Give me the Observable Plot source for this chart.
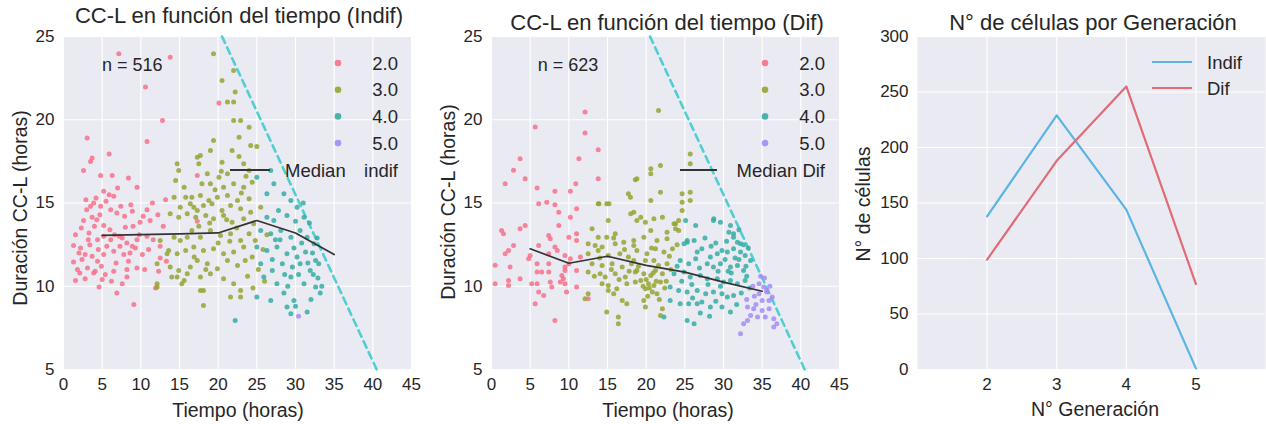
<!DOCTYPE html>
<html>
<head>
<meta charset="utf-8">
<script src="https://cdn.jsdelivr.net/npm/d3@7"></script>
<script src="https://cdn.jsdelivr.net/npm/@observablehq/plot@0.6"></script>
<style>
  body { margin: 0; background: #fff; }
  #wrap { position: relative; width: 1266px; height: 424px; overflow: hidden; font-family: "Liberation Sans", Arial, sans-serif; }
  #wrap > svg, #wrap > figure { position: absolute; top: 0; margin: 0; }
</style>
</head>
<body>
<div id="wrap"></div>
<script>
// ---------------- DATA ----------------
const generations = [2, 3, 4, 5];
const genLabels = ["2.0", "3.0", "4.0", "5.0"];
const timeTicks = [0, 5, 10, 15, 20, 25, 30, 35, 40, 45];
const durTicks = [5, 10, 15, 20, 25];
const countTicks = [0, 50, 100, 150, 200, 250, 300];

// cut-off line (observation window)
const limitTime = [20.5, 40.5];
const limitDur = [25, 5];

// median lines
const medianTime = [5, 10, 15, 20, 25, 30, 35];
const medianIndif = [13.05, 13.1, 13.15, 13.2, 13.95, 13.2, 11.9];
const medianDif = [12.25, 11.38, 11.8, 11.25, 10.85, 10.25, 9.7];

// cells per generation
const indifCount = [138, 229, 144, 1];
const difCount = [99, 188, 255, 77];

// Indif scatter [tiempo, duración]
const indifGen2 = [[7.15,23.96],[13.8,23.76],[10.6,21.96],[12.8,19.95],[3.06,18.9],[10.8,18.7],[3.7,17.7],[3.5,17.5],[5.9,17.95],[2.6,16.95],[4.8,16.65],[6.3,16.65],[8.4,16.5],[9.5,15.95],[5.2,15.7],[5.9,15.5],[6.5,15.4],[2.9,15.2],[3.9,15.0],[3.5,14.8],[4.8,14.8],[6.1,14.6],[7.4,14.8],[8.7,14.9],[8.9,14.5],[6.9,14.4],[10.8,14.6],[13.2,15.2],[2.6,13.95],[3.7,14.15],[5.2,13.65],[8.0,13.55],[9.9,13.85],[11.2,13.95],[1.55,13.1],[3.3,13.2],[4.4,12.8],[5.2,13.0],[6.1,12.8],[7.2,13.0],[8.2,12.6],[8.9,12.4],[9.5,12.8],[10.8,13.0],[1.3,12.45],[2.2,12.3],[2.8,11.9],[3.7,11.8],[4.4,11.5],[5.2,11.9],[6.5,12.1],[7.8,11.9],[8.4,11.5],[9.3,12.3],[10.2,11.9],[12.5,12.4],[1.3,11.45],[3.1,11.1],[4.1,10.9],[5.4,10.7],[6.5,10.9],[8.2,11.0],[9.5,11.1],[12.3,10.9],[1.55,10.35],[2.8,10.45],[4.6,9.95],[7.6,10.15],[8.2,10.55],[6.9,9.6],[9.1,8.9],[12.9,13.6],[12.5,11.7],[20.1,21.0],[17.3,16.65],[17.3,13.9],[2.0,12.0],[2.4,11.6],[3.4,12.5],[4.0,13.6],[4.7,14.3],[5.6,12.4],[6.0,13.4],[6.8,11.4],[7.6,12.9],[3.0,14.6],[4.2,15.3],[5.5,15.1],[7.0,15.9],[3.9,10.8],[2.3,13.5],[9.8,13.1],[11.6,12.8],[10.5,11.0],[11.5,15.0],[6.2,10.3],[1.8,11.0],[4.5,12.2],[7.3,12.4],[9.0,13.6],[10.3,14.2],[11.9,9.9],[11.0,12.2],[12.2,14.3],[13.3,11.5],[3.2,12.8],[4.9,11.2],[6.6,13.1],[8.6,12.0],[2.1,10.8],[5.0,10.4],[7.9,14.2],[4.3,14.0]];
const indifGen3 = [[19.4,23.96],[22.0,22.96],[20.5,22.36],[22.2,21.66],[21.2,21.06],[22.0,21.06],[22.0,19.95],[22.9,19.95],[24.0,19.55],[22.7,18.95],[19.4,18.75],[24.2,18.45],[25.0,18.4],[17.7,17.85],[19.0,18.15],[20.5,17.45],[21.8,18.15],[17.5,17.35],[23.3,17.35],[18.6,16.75],[20.1,16.55],[21.2,16.75],[24.0,16.95],[17.9,16.15],[19.0,16.15],[20.7,15.95],[22.0,16.15],[23.3,15.95],[24.4,16.25],[16.6,15.35],[17.7,15.45],[18.8,15.15],[19.9,15.35],[21.2,15.45],[22.5,15.15],[24.0,15.25],[16.85,14.75],[18.1,14.85],[19.2,14.95],[20.5,14.55],[21.6,14.85],[22.9,14.65],[24.2,14.45],[25.5,14.75],[17.1,14.15],[18.4,14.25],[19.4,14.05],[20.7,14.25],[21.8,13.85],[23.3,14.05],[24.6,13.75],[16.6,13.35],[17.7,12.95],[19.0,13.35],[20.3,13.05],[21.6,13.15],[22.9,12.75],[24.0,13.15],[24.8,12.75],[16.85,12.35],[18.1,12.15],[19.4,12.25],[20.7,11.95],[22.0,12.05],[23.3,12.35],[24.4,11.75],[17.3,11.55],[18.6,11.35],[19.9,11.05],[21.2,11.55],[22.5,11.25],[23.5,11.55],[17.7,10.55],[19.0,10.75],[20.7,10.45],[22.0,10.15],[22.9,9.75],[18.1,9.75],[21.6,9.35],[22.9,9.35],[18.1,8.85],[14.7,17.35],[14.9,16.95],[14.5,16.35],[17.3,17.75],[15.6,15.95],[14.3,15.35],[15.8,15.35],[15.1,14.75],[16.4,14.95],[13.8,14.35],[14.9,14.15],[16.0,14.35],[17.3,14.55],[14.3,12.95],[15.1,12.75],[16.0,12.95],[12.5,12.75],[13.6,12.15],[14.7,11.95],[15.8,12.15],[16.9,11.75],[12.1,11.35],[13.8,11.15],[14.9,10.95],[16.4,11.15],[12.1,10.15],[14.7,10.55],[15.6,10.35],[12.1,9.95],[17.7,9.75],[16.0,10.75],[13.4,11.95],[15.3,10.15],[14.0,10.55],[25.8,12.2],[26.3,13.1],[25.2,11.0],[26.0,10.3],[23.8,10.6],[24.5,9.9],[18.9,13.8],[20.0,12.6],[21.1,14.0],[22.4,13.5],[19.6,15.8],[21.5,12.7],[23.0,15.6],[17.5,13.6],[18.4,11.0],[20.4,16.9],[23.6,16.6],[22.7,17.8]];
const indifGen4 = [[27.2,16.15],[28.5,15.55],[29.4,15.15],[27.8,14.55],[28.9,14.25],[30.2,14.75],[31.1,14.15],[27.2,13.95],[26.3,14.15],[25.5,13.35],[26.8,13.15],[28.1,13.35],[29.4,12.95],[30.6,13.35],[31.5,12.95],[32.4,12.55],[25.0,12.35],[26.3,12.15],[27.6,12.35],[28.9,11.95],[30.2,11.75],[31.3,12.05],[32.6,11.55],[25.5,11.35],[27.0,10.95],[28.3,11.35],[29.6,11.15],[30.6,11.35],[31.9,10.95],[33.0,11.35],[25.9,10.55],[27.6,10.15],[29.4,10.55],[31.1,10.15],[32.6,9.95],[25.0,9.35],[26.8,9.15],[28.9,8.75],[29.8,9.15],[31.5,8.45],[22.2,7.95],[29.4,8.35],[26.8,16.95],[25.0,16.55],[26.3,15.55],[31.8,13.8],[32.2,12.0],[32.9,10.5],[33.2,9.6],[32.0,9.2],[30.4,10.7],[29.0,10.0],[28.0,12.8],[30.0,13.9],[31.0,15.0],[32.8,12.9],[33.4,10.0],[30.8,12.6],[27.0,11.6],[28.5,9.6],[30.0,8.8],[29.8,12.3],[31.6,11.4],[32.3,10.7],[28.6,10.7],[27.4,12.8]];
const indifGen5 = [[30.4,8.2]];

// Dif scatter [tiempo, duración]
const difGen2 = [[12.1,20.46],[5.65,19.56],[12.1,19.2],[13.8,18.2],[3.7,17.66],[11.3,17.66],[2.85,16.96],[4.35,16.46],[1.77,16.16],[13.8,16.46],[5.9,15.9],[8.2,15.7],[10.2,15.7],[10.9,16.16],[6.1,14.95],[7.15,15.05],[8.2,14.9],[11.0,14.65],[8.7,14.45],[10.2,14.15],[4.35,13.65],[3.7,13.45],[8.7,13.65],[1.3,13.35],[1.55,13.15],[7.4,13.05],[7.6,12.85],[10.0,12.95],[11.0,13.15],[11.0,12.75],[2.85,12.45],[2.2,12.15],[1.77,11.95],[6.1,12.45],[8.2,12.35],[8.5,12.15],[5.0,11.85],[4.8,11.65],[7.4,11.95],[9.5,11.85],[10.2,11.65],[11.5,11.75],[0.47,11.26],[2.4,11.15],[5.9,11.35],[7.4,11.35],[9.5,11.15],[10.0,11.35],[5.9,10.85],[6.5,10.85],[7.4,10.85],[9.5,10.95],[9.1,10.65],[11.0,10.95],[0.47,10.15],[2.2,10.35],[2.2,10.05],[3.7,10.45],[5.2,10.15],[5.9,10.15],[7.6,10.25],[7.8,9.95],[8.9,10.25],[9.3,10.45],[9.5,10.15],[11.0,9.95],[6.1,9.65],[6.75,9.45],[9.7,9.65],[12.5,9.25],[5.65,8.95],[8.2,7.95]];
const difGen3 = [[18.6,16.4],[17.7,15.55],[13.8,14.95],[14.9,14.95],[18.4,14.45],[15.1,13.95],[13.0,13.45],[13.8,12.95],[14.9,12.95],[16.0,13.15],[12.5,12.55],[13.4,12.45],[14.3,12.35],[16.0,12.55],[17.1,12.65],[18.4,12.45],[12.5,11.95],[13.8,12.15],[15.1,11.85],[16.6,11.95],[17.7,11.75],[13.0,11.35],[14.3,11.25],[15.6,11.35],[16.9,11.15],[18.1,11.35],[12.5,10.85],[14.05,10.75],[14.7,10.55],[16.0,10.75],[17.3,10.55],[18.6,10.85],[14.3,10.15],[15.1,10.05],[16.2,9.85],[17.5,10.15],[18.6,10.25],[12.5,9.55],[12.1,9.25],[15.1,9.75],[15.8,9.55],[16.9,9.15],[17.5,8.95],[14.9,8.45],[16.4,8.15],[16.4,7.75],[21.85,17.25],[25.7,17.35],[18.8,16.45],[20.6,16.75],[21.85,15.65],[24.65,15.55],[24.65,15.05],[24.65,14.55],[17.97,15.35],[20.6,15.15],[18.8,13.95],[19.9,13.85],[21.0,14.05],[22.1,14.15],[23.6,13.75],[24.2,13.95],[20.6,13.35],[22.7,13.25],[23.8,13.45],[18.4,12.75],[19.7,12.95],[21.4,12.75],[22.7,12.85],[18.8,12.15],[20.1,11.95],[21.2,12.25],[22.3,12.05],[23.4,12.25],[18.4,11.55],[19.9,11.55],[21.0,11.55],[21.6,11.25],[22.7,11.35],[18.8,10.95],[19.7,10.75],[20.6,10.65],[21.2,10.95],[22.1,10.75],[19.3,10.35],[20.3,10.15],[21.0,10.05],[21.85,10.25],[19.9,9.85],[20.8,9.65],[21.4,9.55],[19.7,9.15],[19.9,8.75],[22.1,8.65],[21.85,8.25],[21.6,20.56],[20.6,17.05],[18.0,14.35],[19.3,14.15],[15.2,14.95],[13.9,14.95],[25.7,17.95],[25.7,15.65],[25.7,15.15],[23.8,13.75],[24.2,13.35],[20.0,10.4],[20.4,9.9],[21.3,10.3],[20.9,10.8],[19.6,10.0],[22.4,9.9],[21.7,9.2],[20.2,9.4],[22.6,10.3],[23.2,11.0],[23.0,11.8],[24.0,12.5],[16.5,10.4],[17.8,10.9],[15.5,11.0],[13.3,10.6],[17.2,12.2],[15.8,12.9],[19.0,11.2],[20.7,12.3],[14.0,11.7]];
const difGen4 = [[28.7,13.95],[29.6,13.85],[30.9,13.65],[30.7,13.25],[31.3,12.95],[31.8,12.65],[25.3,12.65],[26.2,12.75],[26.6,12.05],[27.2,12.25],[28.3,11.75],[29.2,11.95],[29.8,12.15],[30.5,12.05],[31.3,12.25],[32.2,12.05],[32.8,11.85],[33.5,11.55],[24.4,11.55],[25.5,11.35],[26.4,11.65],[27.9,11.35],[28.7,11.15],[29.6,11.35],[30.9,11.15],[31.8,11.25],[32.6,10.95],[23.6,10.75],[24.9,10.85],[25.7,10.55],[27.0,10.65],[27.9,10.45],[29.2,10.45],[30.0,10.25],[30.9,10.35],[31.8,10.15],[32.8,10.35],[23.1,9.95],[24.2,9.75],[25.3,9.65],[26.6,9.75],[27.7,9.55],[28.7,9.65],[29.8,9.55],[30.5,9.35],[31.3,9.45],[23.1,9.15],[24.4,8.95],[25.5,8.95],[26.6,8.95],[27.2,9.05],[28.3,8.75],[29.8,8.75],[30.9,8.45],[26.2,7.75],[25.3,7.95],[22.3,8.15],[25.1,13.95],[26.4,13.65],[28.75,14.05],[31.3,13.15],[32.2,12.55],[24.9,12.55],[25.3,12.75],[30.2,11.6],[31.0,10.8],[32.0,11.6],[33.0,10.6],[33.4,9.9],[32.3,9.6],[29.3,10.9],[28.0,10.1],[26.9,11.1],[25.9,10.1],[24.6,10.3],[29.0,9.1],[31.7,8.9],[32.6,12.5],[30.4,12.7],[27.6,12.9],[33.2,12.3],[32.0,13.4],[29.0,12.6],[26.0,9.3],[24.0,11.2],[28.2,8.2],[27.0,8.4],[30.6,10.9],[31.5,11.7],[29.6,10.0],[32.9,11.2],[28.4,12.4]];
const difGen5 = [[34.6,10.15],[35.2,9.95],[35.6,9.65],[34.6,9.55],[35.0,9.15],[35.9,9.15],[33.1,8.75],[33.9,8.65],[35.0,8.55],[35.9,8.65],[33.5,8.25],[34.4,8.15],[35.4,8.15],[36.5,8.05],[33.1,7.95],[32.6,7.75],[36.9,7.75],[36.5,7.55],[35.6,9.75],[36.3,9.35],[32.2,7.15],[34.0,9.4],[34.8,10.6],[33.8,10.0],[35.3,10.5],[36.0,10.0],[34.2,8.9],[33.0,9.2]];

// ---------------- STYLE ----------------
const FONT = "'Liberation Sans', Arial, sans-serif";
const palette = ["#f77189", "#97a431", "#36ada4", "#a48cf4"];
const BG = "#eaeaf2";
const TXT = "#262626";
const limitColor = "#4fcfd2";
const indifColor = "#5ab4e4";
const difColor = "#e06c76";

const wrap = document.getElementById("wrap");

function rows(groups) {
  const out = [];
  groups.forEach((pts, i) => pts.forEach(([t, d]) => out.push({t, d, gen: generations[i]})));
  return out;
}

function scatterPanel({left, width, marginLeft, marginRight, groups, median, note}) {
  const limit = limitTime.map((t, i) => ({t, d: limitDur[i]}));
  const med = medianTime.map((t, i) => ({t, d: median[i]}));
  const svg = Plot.plot({
    width, height: 424,
    marginLeft, marginRight, marginTop: 36, marginBottom: 55,
    style: {fontFamily: FONT, fontSize: "17px", color: TXT, background: "transparent", overflow: "visible"},
    x: {domain: [0, 45], ticks: timeTicks, tickFormat: d3.format("d"), tickSize: 0, tickPadding: 8, label: null},
    y: {domain: [5, 25], ticks: durTicks, tickFormat: d3.format("d"), tickSize: 0, tickPadding: 9, label: null},
    color: {type: "ordinal", domain: generations, range: palette},
    marks: [
      Plot.frame({fill: BG, stroke: null}),
      Plot.ruleX(timeTicks, {stroke: "white", strokeWidth: 1.1}),
      Plot.ruleY(durTicks, {stroke: "white", strokeWidth: 1.1}),
      Plot.line(limit, {x: "t", y: "d", stroke: limitColor, strokeWidth: 2.6, strokeDasharray: "7,5"}),
      Plot.dot(rows(groups), {x: "t", y: "d", fill: "gen", r: 2.5, fillOpacity: 0.85, stroke: null}),
      Plot.line(med, {x: "t", y: "d", stroke: "#333", strokeWidth: 1.7}),
      Plot.text([note], {x: note.t, y: note.d, text: d => d.label, fontSize: 18, fill: TXT, textAnchor: "middle"})
    ]
  });
  svg.style.left = left + "px";
  wrap.appendChild(svg);
}

scatterPanel({left: 0, width: 420, marginLeft: 63, marginRight: 9,
  groups: [indifGen2, indifGen3, indifGen4, indifGen5], median: medianIndif,
  note: {t: 8.9, d: 23.3, label: "n = 516"}});
scatterPanel({left: 420, width: 425, marginLeft: 71, marginRight: 6,
  groups: [difGen2, difGen3, difGen4, difGen5], median: medianDif,
  note: {t: 9.9, d: 23.3, label: "n = 623"}});

// Line chart
{
  const series = [];
  generations.forEach((g, i) => series.push({g, n: indifCount[i], s: "Indif"}));
  generations.forEach((g, i) => series.push({g, n: difCount[i], s: "Dif"}));
  const svg = Plot.plot({
    width: 421, height: 424,
    marginLeft: 72, marginRight: 1, marginTop: 36, marginBottom: 55,
    style: {fontFamily: FONT, fontSize: "17px", color: TXT, background: "transparent", overflow: "visible"},
    x: {domain: [1, 6], ticks: generations, tickFormat: d3.format("d"), tickSize: 0, tickPadding: 8, label: null},
    y: {domain: [0, 300], ticks: countTicks, tickFormat: d3.format("d"), tickSize: 0, tickPadding: 9, label: null},
    color: {domain: ["Indif", "Dif"], range: [indifColor, difColor]},
    marks: [
      Plot.frame({fill: BG, stroke: null}),
      Plot.ruleX(generations, {stroke: "white", strokeWidth: 1.1}),
      Plot.ruleY(countTicks, {stroke: "white", strokeWidth: 1.1}),
      Plot.line(series, {x: "g", y: "n", z: "s", stroke: "s", strokeWidth: 2.2})
    ]
  });
  svg.style.left = "845px";
  wrap.appendChild(svg);
}

// ---------------- TEXT OVERLAY (titles, axis labels, legends) ----------------
const NS = "http://www.w3.org/2000/svg";
const ov = document.createElementNS(NS, "svg");
ov.setAttribute("width", 1266); ov.setAttribute("height", 424);
ov.style.left = "0px"; ov.style.pointerEvents = "none";
wrap.appendChild(ov);
function el(tag, attrs, text) {
  const e = document.createElementNS(NS, tag);
  for (const k in attrs) e.setAttribute(k, attrs[k]);
  if (text != null) e.textContent = text;
  ov.appendChild(e);
  return e;
}
function txt(x, y, s, size, anchor = "middle", rot = 0) {
  const a = {x, y, "font-family": FONT, "font-size": size, fill: TXT, "text-anchor": anchor};
  if (rot) a.transform = `rotate(${rot},${x},${y})`;
  return el("text", a, s);
}
// titles
txt(239, 23, "CC-L en función del tiempo (Indif)", 22);
txt(667, 30, "CC-L en función del tiempo (Dif)", 22);
txt(1093, 30, "N° de células por Generación", 22);
// axis labels
txt(238, 417, "Tiempo (horas)", 19.5);
txt(668, 417, "Tiempo (horas)", 19.5);
txt(1095, 416, "N° Generación", 19.5);
txt(27, 208, "Duración CC-L (horas)", 19.5, "middle", -90);
txt(455, 202, "Duración CC-L (horas)", 19.5, "middle", -90);
txt(870, 204, "N° de células", 19.5, "middle", -90);
// scatter legends
[[338, 398, 230, 270], [765, 825, 680, 717]].forEach(([dx, tx, l0, l1]) => {
  genLabels.forEach((lab, i) => {
    const y = 63 + i * 26.7;
    el("circle", {cx: dx, cy: y, r: 3.3, fill: palette[i], "fill-opacity": 0.9});
    txt(tx, y + 6.5, lab, 18.5, "end");
  });
  el("line", {x1: l0, x2: l1, y1: 170, y2: 170, stroke: "#333", "stroke-width": 1.8});
});
// median legend labels
txt(285, 176.5, "Median", 18.5, "start");
txt(398, 176.5, "indif", 18.5, "end");
txt(825, 176.5, "Median Dif", 18.5, "end");
// line chart legend
[["Indif", indifColor, 62], ["Dif", difColor, 88]].forEach(([lab, c, y]) => {
  el("line", {x1: 1152, x2: 1192, y1: y, y2: y, stroke: c, "stroke-width": 2.2});
  txt(1207, y + 6.5, lab, 18.5, "start");
});
</script>
</body>
</html>
